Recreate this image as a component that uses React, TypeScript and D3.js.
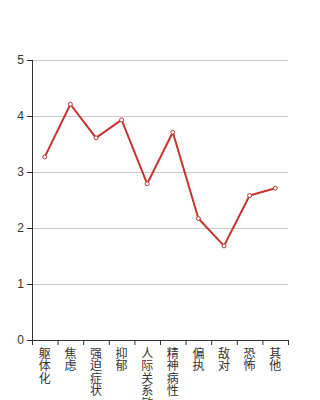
import React from "react";
import * as d3 from "d3";

const categories = ["躯体化", "焦虑", "强迫症状", "抑郁", "人际关系敏感", "精神病性", "偏执", "敌对", "恐怖", "其他"];
const values = [3.27, 4.21, 3.61, 3.93, 2.79, 3.71, 2.17, 1.68, 2.58, 2.71];
const yTicks = [0, 1, 2, 3, 4, 5];

const W = 320, H = 400;
const M = { left: 32, right: 32, top: 60, bottom: 60 };

export default function App() {
  const x = d3.scaleBand<string>().domain(categories).range([M.left, W - M.right]);
  const y = d3.scaleLinear().domain([0, 5]).range([H - M.bottom, M.top]);
  const line = d3.line<number>()
    .x((_, i) => (x(categories[i]) as number) + x.bandwidth() / 2)
    .y((d) => y(d));
  const bounds = [...categories.map((c) => x(c) as number), W - M.right];
  return (
    <svg width={W} height={H} style={{ position: "absolute", left: 0, top: 0 }} fontFamily="'Noto Sans CJK SC', sans-serif">
      {yTicks.slice(1).map((t) => (
        <line key={t} x1={M.left} x2={W - M.right} y1={y(t) + 0.5} y2={y(t) + 0.5} stroke="#ccc" />
      ))}
      <line x1={M.left + 0.5} x2={M.left + 0.5} y1={M.top} y2={H - M.bottom} stroke="#333" />
      {yTicks.map((t) => (
        <g key={t}>
          <line x1={M.left - 5} x2={M.left} y1={y(t) + 0.5} y2={y(t) + 0.5} stroke="#333" />
          <text x={M.left - 8} y={y(t)} dy="0.35em" textAnchor="end" fontSize={12} fill="#333" fontFamily="sans-serif">{t}</text>
        </g>
      ))}
      <line x1={M.left} x2={W - M.right} y1={H - M.bottom + 0.5} y2={H - M.bottom + 0.5} stroke="#333" />
      {bounds.map((b, i) => (
        <line key={i} x1={b + 0.5} x2={b + 0.5} y1={H - M.bottom} y2={H - M.bottom + 5} stroke="#333" />
      ))}
      {categories.map((c) => (
        <text key={c} fontSize={12} fill="#333" textAnchor="middle">
          {c.split("").map((ch, j) => (
            <tspan key={j} x={(x(c) as number) + x.bandwidth() / 2} y={H - M.bottom + 18 + j * 12.4}>{ch}</tspan>
          ))}
        </text>
      ))}
      <path d={line(values) as string} fill="none" stroke="#c23531" strokeWidth={2} strokeLinejoin="bevel" />
      {values.map((v, i) => (
        <circle key={i} cx={(x(categories[i]) as number) + x.bandwidth() / 2} cy={y(v)} r={2} fill="#fff" stroke="#c23531" strokeWidth={1} />
      ))}
    </svg>
  );
}
